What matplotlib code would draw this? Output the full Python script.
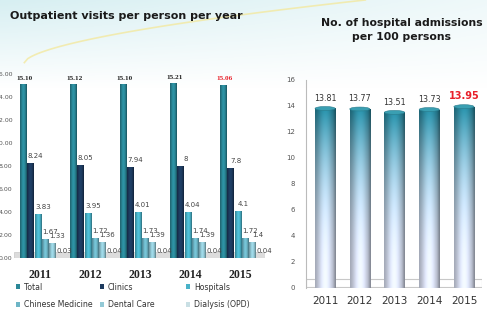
import matplotlib.pyplot as plt
import matplotlib.colors as mcolors
from matplotlib.patches import Ellipse, Rectangle
import numpy as np

years = ['2011', '2012', '2013', '2014', '2015']

# outpatient visits per person per year
series_names = ['Total', 'Clinics', 'Hospitals', 'Chinese Medicine', 'Dental Care', 'Dialysis (OPD)']
total = [15.10, 15.12, 15.10, 15.21, 15.06]
clinics = [8.24, 8.05, 7.94, 8, 7.8]
hospitals = [3.83, 3.95, 4.01, 4.04, 4.1]
chinese_med = [1.67, 1.72, 1.73, 1.74, 1.72]
dental = [1.33, 1.36, 1.39, 1.39, 1.4]
dialysis = [0.03, 0.04, 0.04, 0.04, 0.04]
total_labels = ['15.10', '15.12', '15.10', '15.21', '15.06']
other_labels = [['8.24', '8.05', '7.94', '8', '7.8'],
                ['3.83', '3.95', '4.01', '4.04', '4.1'],
                ['1.67', '1.72', '1.73', '1.74', '1.72'],
                ['1.33', '1.36', '1.39', '1.39', '1.4'],
                ['0.03', '0.04', '0.04', '0.04', '0.04']]

# hospital admissions per 100 persons
admissions = [13.81, 13.77, 13.51, 13.73, 13.95]

series_colors = ['#2a8797', '#1d3a5e', '#49b2c8', '#6db5c6', '#93c9d6', '#c9dfe4']


def shaded_bar(ax, bar, base, top_col=None, zorder=2, power=1.0):
    # cylinder look: horizontal light/dark shading, optional vertical blend
    x0, y0 = bar.get_x(), bar.get_y()
    w, h = bar.get_width(), bar.get_height()
    n = 40
    t = np.linspace(0, 1, n)
    shade = 0.72 + 0.38 * np.sin(np.pi * (t * 0.85 + 0.08)) ** 2
    shade[-6:] *= np.linspace(1, 0.8, 6)
    b = np.array(mcolors.to_rgb(base))
    if top_col is None:
        img = np.clip(b[None, None, :] * shade[None, :, None], 0, 1)
        img = np.repeat(img, 2, axis=0)
    else:
        tc = np.array(mcolors.to_rgb(top_col))
        v = np.linspace(0, 1, 80)[:, None, None] ** power
        col = tc[None, None, :] * v + b[None, None, :] * (1 - v)
        img = np.clip(col * shade[None, :, None], 0, 1)
    im = ax.imshow(img, extent=(x0, x0 + w, y0, y0 + h), origin='lower',
                   aspect='auto', zorder=zorder, interpolation='bilinear')
    im.set_clip_path(bar)
    bar.set_alpha(0)


fig = plt.figure(figsize=(4.87, 3.13), dpi=100)

# decorative background at the top
bg = fig.add_axes([0, 0, 1, 1], zorder=-10)
gy = np.linspace(0, 1, 200)[:, None]
gx = np.linspace(0, 1, 300)[None, :]
fade = np.clip((gy - 0.72) / 0.28, 0, 1) * (1 - 0.6 * gx)
c1 = np.array(mcolors.to_rgb('#d7eff2'))
bgimg = np.ones((200, 300, 3)) * (1 - fade[..., None]) + c1 * fade[..., None]
bg.imshow(bgimg, extent=(0, 1, 0, 1), origin='lower', aspect='auto')
cx = np.linspace(0.05, 0.75, 100)
bg.plot(cx, 0.80 + 0.2 * ((cx - 0.05) / 0.7) ** 0.6, color='#f3e9a0', lw=1.2, alpha=0.8)
bg.set_xlim(0, 1)
bg.set_ylim(0, 1)
bg.axis('off')

fig.text(0.02, 0.95, 'Outpatient visits per person per year', fontsize=8,
         fontweight='bold', color='#1a1a1a', ha='left', va='center')
fig.text(0.825, 0.905, 'No. of hospital admissions\nper 100 persons', fontsize=7.8,
         fontweight='bold', color='#1a1a1a', ha='center', va='center', linespacing=1.45)

# ---- left chart ----
ax1 = fig.add_axes([14 / 487, 1 - 258 / 313, 251 / 487, 184 / 313])
ax1.set_xlim(-0.52, 4.5)
ax1.set_ylim(0, 16)
x = np.arange(len(years))
step = 0.145
w = 0.13
all_series = [total, clinics, hospitals, chinese_med, dental, dialysis]
for i, (vals, col) in enumerate(zip(all_series, series_colors)):
    pos = x - 2.5 * step + i * step + 0.03
    bars = ax1.bar(pos, vals, width=w, color=col, zorder=2)
    for b in bars:
        shaded_bar(ax1, b, col, zorder=2 + i * 0.01)
    if i == 0:
        for j, (p, v) in enumerate(zip(pos, vals)):
            ax1.text(p + 0.03, v + 0.3, total_labels[j], fontsize=5.2, fontweight='bold',
                     family='Liberation Serif', ha='center', va='bottom',
                     color='#e8202a' if j == 4 else '#222222')
    else:
        for j, (p, v) in enumerate(zip(pos, vals)):
            ax1.text(p + 0.1, v + 0.35, other_labels[i - 1][j], fontsize=5,
                     ha='center', va='bottom', color='#444444', zorder=5)
ax1.add_patch(Rectangle((0, 0), 1, 0.035, transform=ax1.transAxes, facecolor='#dcdcdc',
                        edgecolor='#c8c8c8', lw=0.5, zorder=1))
ax1.set_yticks(np.arange(0, 17, 2))
ax1.set_yticklabels([f'{v:.2f}' for v in np.arange(0, 17, 2)], fontsize=4.5, color='#555555')
ax1.tick_params(axis='y', length=0, pad=1)
ax1.set_xticks(x)
ax1.set_xticklabels(years, fontsize=8.5, fontweight='bold', color='#222222',
                    family='Liberation Serif')
ax1.tick_params(axis='x', length=0, pad=8)
for s in ax1.spines.values():
    s.set_visible(False)
ax1.patch.set_alpha(0)

# legend: three columns placed by hand, two rows each
handles = [Rectangle((0, 0), 1, 1, facecolor=c) for c in series_colors]
col_x = [14, 98, 184]
for c in range(3):
    fig.legend([handles[c], handles[c + 3]], [series_names[c], series_names[c + 3]],
               loc='upper left', bbox_to_anchor=(col_x[c] / 487, 1 - 281 / 313),
               frameon=False, fontsize=5.6, handlelength=0.6, handleheight=0.6,
               handletextpad=0.5, labelspacing=1.1, labelcolor='#333333',
               borderaxespad=0, borderpad=0.2)

# ---- right chart ----
ax2 = fig.add_axes([306 / 487, 1 - 288 / 313, 176 / 487, 208 / 313])
xr = np.arange(len(years))
ax2.set_xlim(-0.55, 4.52)
ax2.set_ylim(0, 16)
bars2 = ax2.bar(xr, admissions, width=0.58, color='#2c8ca0', zorder=3)
for b in bars2:
    shaded_bar(ax2, b, '#dfe5f8', top_col='#25879e', zorder=3, power=2.2)
    ax2.add_patch(Ellipse((b.get_x() + b.get_width() / 2, b.get_height()), b.get_width(), 0.3,
                          facecolor='#3a9fb2', edgecolor='#2a7b8c', lw=0.4, zorder=4))
for j, v in enumerate(admissions):
    if j == 4:
        ax2.text(xr[j], v + 0.45, f'{v:.2f}', fontsize=7, fontweight='bold',
                 color='#e8202a', ha='center', va='bottom')
    else:
        ax2.text(xr[j], v + 0.45, f'{v:.2f}', fontsize=5.8, color='#333333',
                 ha='center', va='bottom')
ax2.add_patch(Rectangle((0, 0.005), 1, 0.04, transform=ax2.transAxes, facecolor='white',
                        edgecolor='#c8c8c8', lw=0.8, zorder=2))
ax2.set_yticks(np.arange(0, 17, 2))
ax2.set_yticklabels([str(v) for v in np.arange(0, 17, 2)], fontsize=5, color='#555555')
ax2.tick_params(axis='y', length=0, pad=8)
ax2.set_xticks(xr)
ax2.set_xticklabels(years, fontsize=7.5, color='#333333')
ax2.tick_params(axis='x', length=0, pad=6)
for k in ['top', 'right', 'bottom']:
    ax2.spines[k].set_visible(False)
ax2.spines['left'].set_color('#bbbbbb')
ax2.spines['left'].set_linewidth(0.8)
ax2.patch.set_alpha(0)

fig.savefig('out.png', dpi=100)
